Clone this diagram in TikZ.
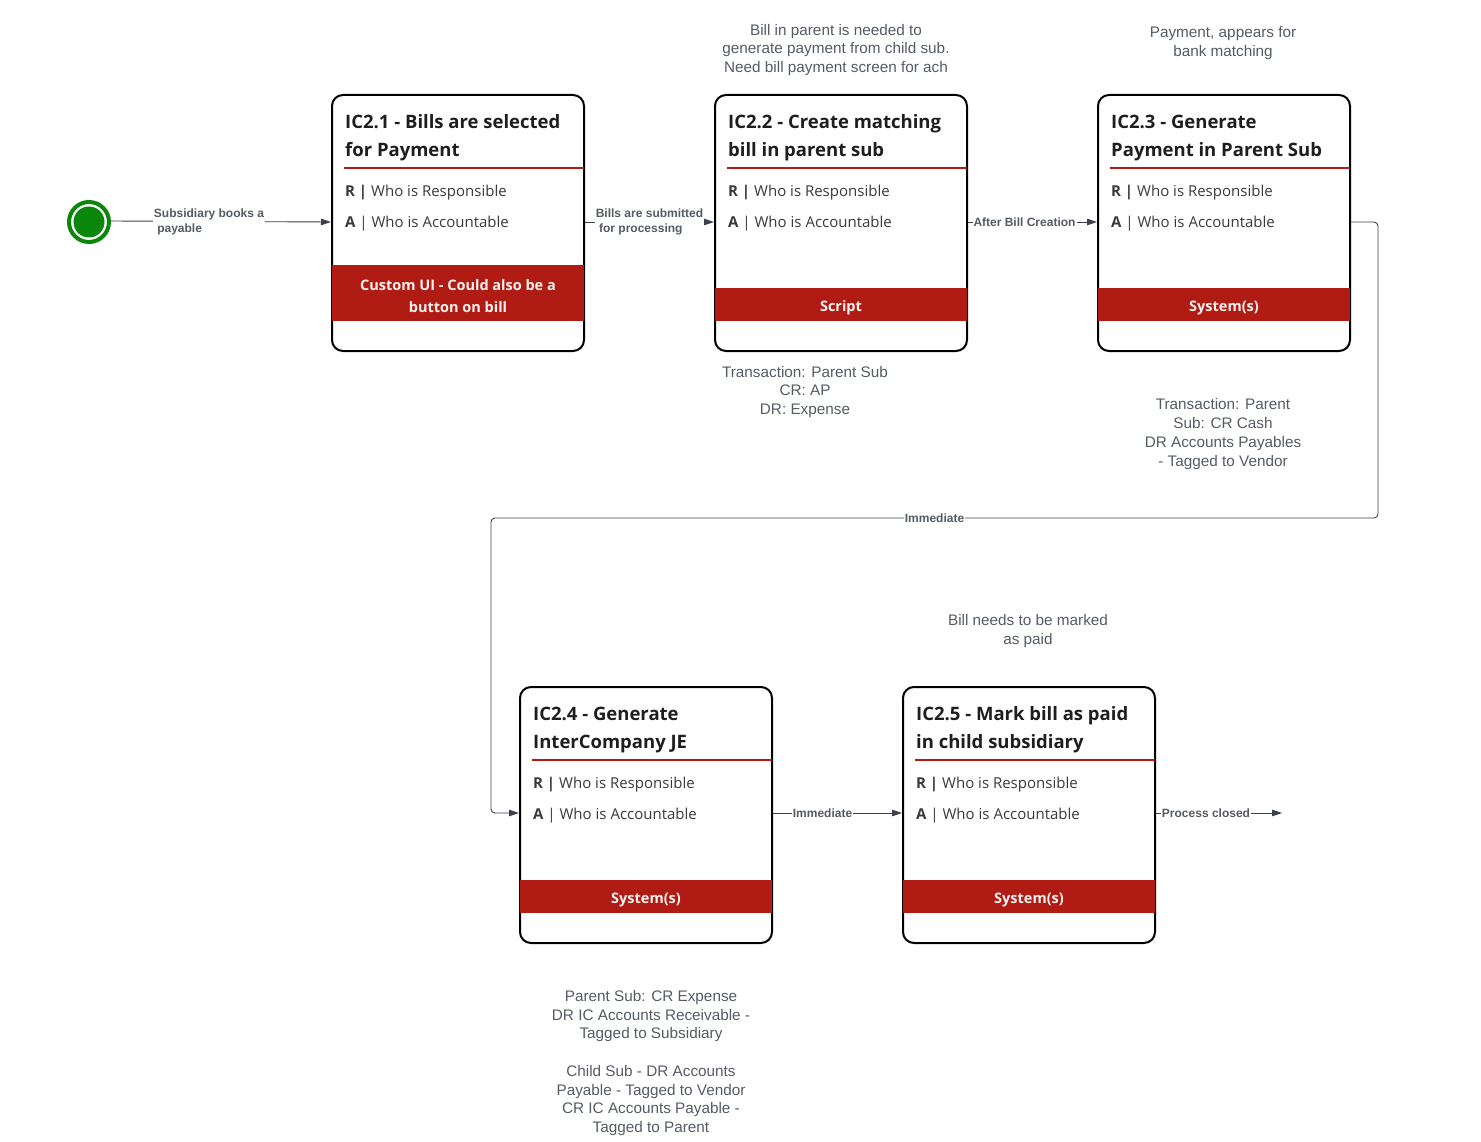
\documentclass[tikz,border=0pt]{standalone}
\usepackage{fontspec}
\setmainfont{Liberation Sans}
\newfontfamily\boxfont{Open Sans}
\usetikzlibrary{arrows.meta,calc}

\definecolor{bandred}{HTML}{B01C14}
\definecolor{notegray}{HTML}{555B63}
\definecolor{linegray}{HTML}{3A414B}
\definecolor{startgreen}{HTML}{0A870A}
\definecolor{textdark}{HTML}{1E1E1E}
\definecolor{whogray}{HTML}{3A3A3A}

\begin{document}
\begin{tikzpicture}[x=1pt, y=-1pt,
    stepbox/.style={draw=black, line width=2pt, rounded corners=11pt, fill=white,
        minimum width=252pt, minimum height=256pt, inner sep=0pt},
    title/.style={anchor=west, align=left, inner sep=0pt, text=textdark,
        font=\boxfont\fontsize{18.5}{28}\selectfont\bfseries},
    role/.style={anchor=west, inner sep=0pt, text=whogray, font=\boxfont\fontsize{15}{18}\selectfont},
    rule/.style={draw=bandred, line width=2pt},
    band/.style={fill=bandred},
    bandtext/.style={align=center, text=white!94!bandred, font=\boxfont\fontsize{14.5}{22.5}\selectfont\bfseries},
    flow/.style={draw=linegray, line width=0.9pt, -{Triangle[length=10pt,width=6.5pt]}},
    flowlabel/.style={fill=white, inner sep=1pt, align=left, text=notegray,
        font=\fontsize{12}{15}\selectfont\bfseries},
    note/.style={align=center, text=notegray, font=\fontsize{15.3}{18.7}\selectfont}
]

    % Page
    \useasboundingbox (0,0) rectangle (1481,1142);

    % Start
    \node[circle, draw=startgreen, line width=4pt, fill=white, minimum size=40pt, inner sep=0pt] (start) at (89,222) {};
    \fill[startgreen] (start) circle (15.5pt);

    % Boxes
    \node[stepbox] (b1) at (458,223) {};
    \node[stepbox] (b2) at (841,223) {};
    \node[stepbox] (b3) at (1224,223) {};
    \node[stepbox] (b4) at (646,815) {};
    \node[stepbox] (b5) at (1029,815) {};

    % IC2.1
    \node[title] (t1) at ($(b1.north west)+(14,44)$) {IC2.1 - Bills are selected\\for Payment};
    \draw[rule] ($(b1.north west)+(13,74)$) -- ($(b1.north east)+(-1,74)$);
    \node[role] (r1) at ($(b1.north west)+(14,99)$) {\textbf{R |} Who is Responsible};
    \node[role] (a1) at ($(b1.north west)+(14,130)$) {\textbf{A} | Who is Accountable};
    \fill[band] ($(b1.north west)+(1,171)$) rectangle ($(b1.north east)+(-1,227)$);
    \node[bandtext] (s1) at ($(b1.north)+(0,202)$) {Custom UI - Could also be a\\button on bill};

    % IC2.2
    \node[title] (t2) at ($(b2.north west)+(14,44)$) {IC2.2 - Create matching\\bill in parent sub};
    \draw[rule] ($(b2.north west)+(13,74)$) -- ($(b2.north east)+(-1,74)$);
    \node[role] (r2) at ($(b2.north west)+(14,99)$) {\textbf{R |} Who is Responsible};
    \node[role] (a2) at ($(b2.north west)+(14,130)$) {\textbf{A} | Who is Accountable};
    \fill[band] ($(b2.north west)+(1,194)$) rectangle ($(b2.north east)+(-1,227)$);
    \node[bandtext] (s2) at ($(b2.north)+(0,214)$) {Script};

    % IC2.3
    \node[title] (t3) at ($(b3.north west)+(14,44)$) {IC2.3 - Generate\\Payment in Parent Sub};
    \draw[rule] ($(b3.north west)+(13,74)$) -- ($(b3.north east)+(-1,74)$);
    \node[role] (r3) at ($(b3.north west)+(14,99)$) {\textbf{R |} Who is Responsible};
    \node[role] (a3) at ($(b3.north west)+(14,130)$) {\textbf{A} | Who is Accountable};
    \fill[band] ($(b3.north west)+(1,194)$) rectangle ($(b3.north east)+(-1,227)$);
    \node[bandtext] (s3) at ($(b3.north)+(0,214)$) {System(s)};

    % IC2.4
    \node[title] (t4) at ($(b4.north west)+(14,44)$) {IC2.4 - Generate\\InterCompany JE};
    \draw[rule] ($(b4.north west)+(13,74)$) -- ($(b4.north east)+(-1,74)$);
    \node[role] (r4) at ($(b4.north west)+(14,99)$) {\textbf{R |} Who is Responsible};
    \node[role] (a4) at ($(b4.north west)+(14,130)$) {\textbf{A} | Who is Accountable};
    \fill[band] ($(b4.north west)+(1,194)$) rectangle ($(b4.north east)+(-1,227)$);
    \node[bandtext] (s4) at ($(b4.north)+(0,214)$) {System(s)};

    % IC2.5
    \node[title] (t5) at ($(b5.north west)+(14,44)$) {IC2.5 - Mark bill as paid\\in child subsidiary};
    \draw[rule] ($(b5.north west)+(13,74)$) -- ($(b5.north east)+(-1,74)$);
    \node[role] (r5) at ($(b5.north west)+(14,99)$) {\textbf{R |} Who is Responsible};
    \node[role] (a5) at ($(b5.north west)+(14,130)$) {\textbf{A} | Who is Accountable};
    \fill[band] ($(b5.north west)+(1,194)$) rectangle ($(b5.north east)+(-1,227)$);
    \node[bandtext] (s5) at ($(b5.north)+(0,214)$) {System(s)};

    % Turn points and end
    \coordinate (turnR) at (1378,518);
    \coordinate (turnL) at (491,518);
    \coordinate (finish) at (1282,813);

    % Connectors
    \draw[flow] ([yshift=1pt]start.east) -- node[flowlabel, xshift=-12pt] {Subsidiary books a\\\ payable} ([yshift=1pt]b1.west);
    \draw[flow] ([yshift=1pt]b1.east) -- node[flowlabel] {Bills are submitted\\\ for processing} ([yshift=1pt]b2.west);
    \draw[flow] ([yshift=1pt]b2.east) -- node[flowlabel, xshift=-8pt] {After Bill Creation} ([yshift=1pt]b3.west);
    \draw[flow, rounded corners=4pt] ([yshift=1pt]b3.east) -| (turnR) -- node[flowlabel] {Immediate} (turnL) |- ([yshift=2pt]b4.west);
    \draw[flow] ([yshift=2pt]b4.east) -- node[flowlabel, xshift=-15pt] {Immediate} ([yshift=2pt]b5.west);
    \draw[flow] ([yshift=2pt]b5.east) -- node[flowlabel, xshift=-13pt] {Process closed} (finish);

    % Notes
    \node[note] (n1) at (836,50) {Bill in parent is needed to\\generate payment from child sub.\\Need bill payment screen for ach};
    \node[note] (n2) at (1223,43) {Payment, appears for\\bank matching};
    \node[note] (n3) at (805,392) {Transaction: Parent Sub\\CR: AP\\DR: Expense};
    \node[note] (n4) at (1223,434) {Transaction: Parent\\Sub: CR Cash\\DR Accounts Payables\\- Tagged to Vendor};
    \node[note] (n5) at (1028,631) {Bill needs to be marked\\as paid};
    \node[note] (n6) at (651,1063) {Parent Sub: CR Expense\\DR IC Accounts Receivable -\\Tagged to Subsidiary\\[18.7pt]Child Sub - DR Accounts\\Payable - Tagged to Vendor\\CR IC Accounts Payable -\\Tagged to Parent};

\end{tikzpicture}
\end{document}
